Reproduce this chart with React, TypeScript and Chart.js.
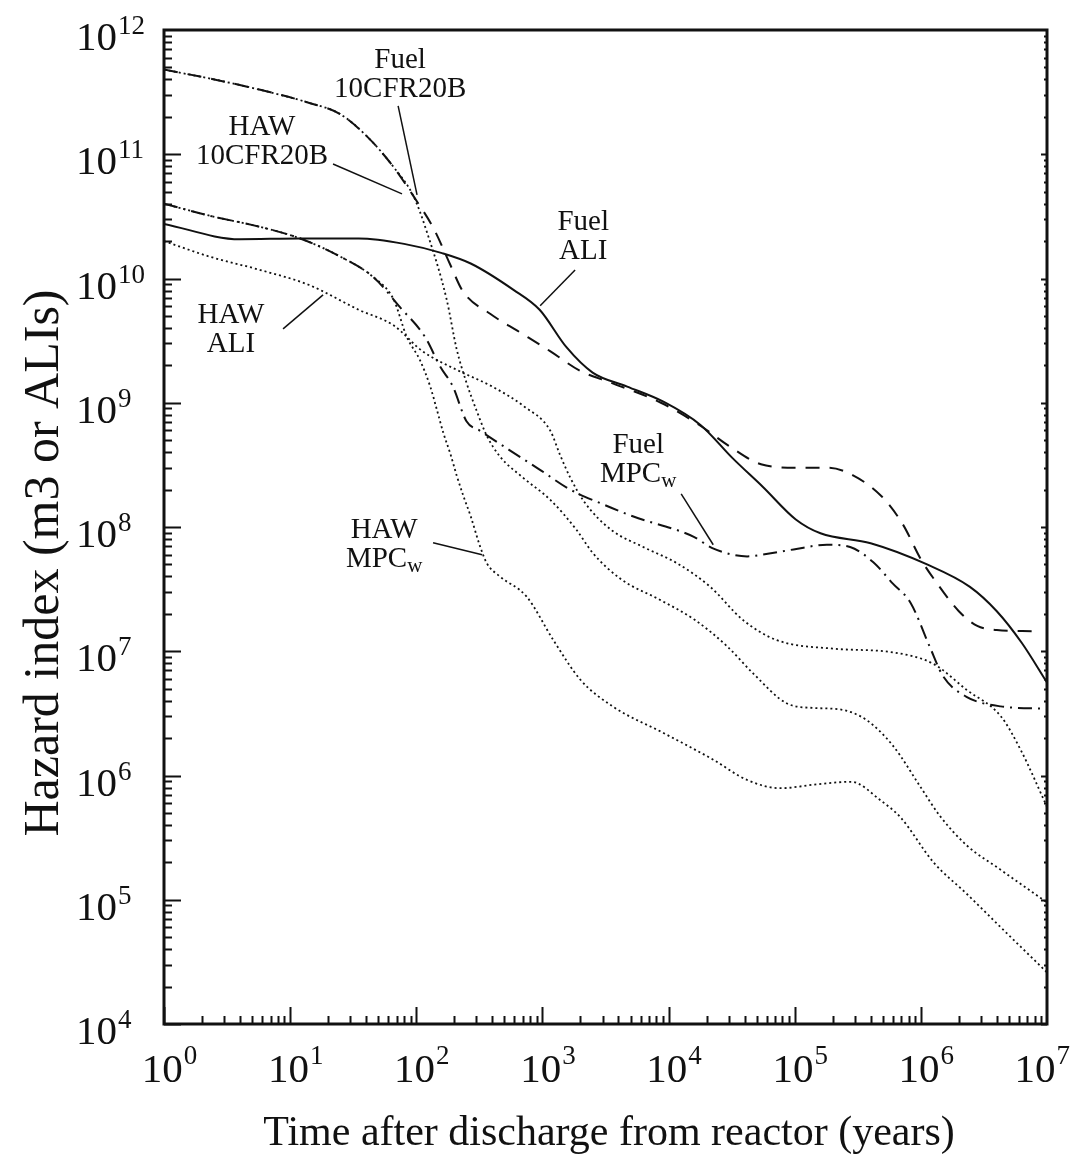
import React, { useEffect, useRef } from 'react';
import { Chart, registerables } from 'chart.js';

Chart.register(...registerables);

// ---- Data (years, hazard index) ----
const fuelAliT = [1, 4, 12, 35, 80, 160, 270, 590, 950, 1550, 2500, 4700, 9100, 1.8e4, 3.2e4, 5.6e4, 1.02e5, 1.6e5, 4e5, 1.12e6, 2.45e6, 4e6, 6.3e6, 1e7];
const fuelAliV = [2.75e10, 2.07e10, 2.1e10, 2.1e10, 1.9e10, 1.6e10, 1.32e10, 8.1e9, 5.6e9, 2.8e9, 1.75e9, 1.35e9, 1.02e9, 6.6e8, 3.6e8, 2.1e8, 1.15e8, 8.9e7, 7.4e7, 5e7, 3.3e7, 2.1e7, 1.17e7, 5.6e6];

const fuelCfrT = [1, 2.5, 5.8, 14, 25, 41, 66, 95, 138, 186, 234, 385, 660, 1150, 2000, 3500, 8700, 1.8e4, 3e4, 5.4e4, 1.02e5, 1.86e5, 2.9e5, 4.9e5, 7.2e5, 1e6, 1.35e6, 2e6, 2.8e6, 4e6, 7.6e6];
const fuelCfrV = [4.8e11, 4e11, 3.3e11, 2.6e11, 2.1e11, 1.38e11, 7.9e10, 4.6e10, 2.5e10, 1.29e10, 7.9e9, 5.2e9, 3.7e9, 2.6e9, 1.8e9, 1.45e9, 1e9, 6.5e8, 4.5e8, 3.2e8, 3e8, 3e8, 2.6e8, 1.76e8, 1.05e8, 5.5e7, 3.5e7, 2.1e7, 1.6e7, 1.48e7, 1.45e7];

const fuelMpcT = [1, 2.3, 5.8, 12, 25, 46, 74, 117, 155, 195, 250, 316, 540, 950, 1660, 2900, 5200, 1.6e4, 2.2e4, 4.2e4, 5.6e4, 9.8e4, 1.8e5, 2.75e5, 4.2e5, 6e5, 8.3e5, 1.17e6, 1.5e6, 2.3e6, 4.3e6, 1e7];
const fuelMpcV = [4e10, 3.2e10, 2.6e10, 2.1e10, 1.5e10, 1.02e10, 5.9e9, 3.4e9, 1.95e9, 1.35e9, 7.1e8, 6e8, 4.2e8, 2.9e8, 2e8, 1.55e8, 1.22e8, 8.3e7, 6.8e7, 5.8e7, 6e7, 6.6e7, 7.2e7, 6.9e7, 5.2e7, 3.5e7, 2.45e7, 1.1e7, 6.3e6, 4.3e6, 3.6e6, 3.45e6];

const hawCfrT = [1, 2.5, 5.8, 14, 25, 41, 66, 95, 120, 174, 209, 250, 300, 363, 460, 700, 1150, 1860, 2500, 4200, 8500, 1.6e4, 2.9e4, 4.7e4, 8.7e4, 1.4e5, 2.3e5, 3.7e5, 6e5, 1e6, 1.4e6, 2.3e6, 4.3e6, 1e7];
const hawCfrV = [4.8e11, 4e11, 3.3e11, 2.6e11, 2.1e11, 1.38e11, 7.9e10, 4.6e10, 2.45e10, 6.8e9, 2.7e9, 1.45e9, 8.7e8, 5.4e8, 3.7e8, 2.5e8, 1.66e8, 9.5e7, 6.2e7, 3.8e7, 2.6e7, 1.8e7, 1.1e7, 6.6e6, 3.8e6, 3.5e6, 3.4e6, 2.8e6, 1.74e6, 8e5, 4.8e5, 2.75e5, 1.74e5, 9.5e4];

const hawMpcT = [1, 2.3, 5.8, 12, 25, 46, 66, 84, 107, 129, 146, 164, 186, 209, 237, 270, 320, 363, 460, 750, 1220, 2000, 3600, 9100, 2.26e4, 4.2e4, 7.7e4, 1.5e5, 2.8e5, 4.8e5, 6.9e5, 1.26e6, 2.3e6, 4.3e6, 1e7];
const hawMpcV = [4e10, 3.2e10, 2.6e10, 2.1e10, 1.5e10, 1.02e10, 6.8e9, 3.4e9, 2.2e9, 1.35e9, 8.7e8, 5.7e8, 3.9e8, 2.6e8, 1.76e8, 1.22e8, 7e7, 5.1e7, 4e7, 2.75e7, 1.23e7, 5.9e6, 3.6e6, 2.2e6, 1.34e6, 9.2e5, 7.9e5, 8.5e5, 8.9e5, 6.3e5, 4.6e5, 2e5, 1.12e5, 6e4, 2.6e4];

const hawAliT = [1, 2.3, 5.8, 14, 35, 66, 112, 209, 400, 720, 1150, 1380, 1660, 2140, 3500, 6300, 1.17e4, 2.14e4, 3.9e4, 7.2e4, 2e5, 6e5, 1.26e6, 2.3e6, 4.3e6, 6.2e6, 1e7];
const hawAliV = [2e10, 1.5e10, 1.17e10, 8.9e9, 5.6e9, 4.2e9, 2.6e9, 1.84e9, 1.35e9, 9.3e8, 6e8, 3.8e8, 2.5e8, 1.6e8, 9.5e7, 6.9e7, 5.1e7, 3.3e7, 1.78e7, 1.23e7, 1.05e7, 9.8e6, 7.9e6, 4.9e6, 3e6, 1.6e6, 5.6e5];

// ---- Axes ----
const xMin = 1;
const xMax = 1e7;
const yMin = 1e4;
const yMax = 1e12;
const xTickExponents = [0, 1, 2, 3, 4, 5, 6, 7];
const yTickExponents = [4, 5, 6, 7, 8, 9, 10, 11, 12];
const xTitle = 'Time after discharge from reactor (years)';
const yTitle = 'Hazard index (m3 or ALIs)';

// ---- Curve annotations (anchor and leader line in data units) ----
type Seg = { text: string; sub?: boolean };
const annotations: { lines: Seg[][]; at: [number, number]; leader: [number, number][] }[] = [
  { lines: [[{ text: 'Fuel' }], [{ text: '10CFR20B' }]], at: [10 ** 1.872, 10 ** 11.694], leader: [[10 ** 1.856, 10 ** 11.389], [10 ** 2.006, 10 ** 10.673]] },
  { lines: [[{ text: 'HAW' }], [{ text: '10CFR20B' }]], at: [10 ** 0.777, 10 ** 11.155], leader: [[10 ** 1.34, 10 ** 10.922], [10 ** 1.887, 10 ** 10.681]] },
  { lines: [[{ text: 'Fuel' }], [{ text: 'ALI' }]], at: [10 ** 3.323, 10 ** 10.391], leader: [[10 ** 3.259, 10 ** 10.069], [10 ** 2.982, 10 ** 9.78]] },
  { lines: [[{ text: 'HAW' }], [{ text: 'ALI' }]], at: [10 ** 0.531, 10 ** 9.643], leader: [[10 ** 0.944, 10 ** 9.595], [10 ** 1.261, 10 ** 9.868]] },
  { lines: [[{ text: 'Fuel' }], [{ text: 'MPC' }, { text: 'w', sub: true }]], at: [10 ** 3.759, 10 ** 8.597], leader: [[10 ** 4.1, 10 ** 8.267], [10 ** 4.354, 10 ** 7.857]] },
  { lines: [[{ text: 'HAW' }], [{ text: 'MPC' }, { text: 'w', sub: true }]], at: [10 ** 1.745, 10 ** 7.913], leader: [[10 ** 2.133, 10 ** 7.873], [10 ** 2.522, 10 ** 7.776]] },
];

const FONT = '"Liberation Serif", "Times New Roman", serif';
const INK = '#111';

const pts = (t: number[], v: number[]) => t.map((x, i) => ({ x, y: v[i] }));

const decorPlugin = {
  id: 'decor',
  afterDraw(chart: any) {
    const ctx: CanvasRenderingContext2D = chart.ctx;
    const xs = chart.scales.x;
    const ys = chart.scales.y;
    const a = chart.chartArea;
    ctx.save();
    ctx.strokeStyle = INK;
    ctx.fillStyle = INK;

    // frame
    ctx.lineWidth = 3;
    ctx.strokeRect(a.left, a.top, a.right - a.left, a.bottom - a.top);

    // ticks
    ctx.lineWidth = 2;
    ctx.beginPath();
    for (let d = 0; d < 7; d++) {
      for (let m = 1; m <= 9; m++) {
        const px = Math.round(xs.getPixelForValue(m * 10 ** d)) + 0.5;
        const len = m === 1 ? 17 : 8;
        ctx.moveTo(px, a.bottom);
        ctx.lineTo(px, a.bottom - len);
      }
    }
    for (let d = 4; d < 12; d++) {
      for (let m = 1; m <= 9; m++) {
        const py = Math.round(ys.getPixelForValue(m * 10 ** d)) + 0.5;
        const len = m === 1 ? 17 : 8;
        ctx.moveTo(a.left, py);
        ctx.lineTo(a.left + len, py);
        const rl = m === 1 ? 6 : 3;
        ctx.moveTo(a.right, py);
        ctx.lineTo(a.right - rl, py);
      }
    }
    ctx.stroke();

    // tick labels
    const base = 41;
    const sup = 27;
    const canvasW = chart.width;
    ctx.textBaseline = 'alphabetic';
    for (const e of xTickExponents) {
      const px = xs.getPixelForValue(10 ** e);
      ctx.font = `${base}px ${FONT}`;
      const w1 = ctx.measureText('10').width;
      ctx.font = `${sup}px ${FONT}`;
      const w2 = ctx.measureText(String(e)).width;
      let x0 = px + 5 - (w1 + w2) / 2;
      if (x0 + w1 + w2 + 1 > canvasW - 8) x0 = canvasW - 8 - (w1 + w2 + 1);
      ctx.textAlign = 'left';
      ctx.font = `${base}px ${FONT}`;
      ctx.fillText('10', x0, a.bottom + 58);
      ctx.font = `${sup}px ${FONT}`;
      ctx.fillText(String(e), x0 + w1 + 1, a.bottom + 40);
    }
    for (const e of yTickExponents) {
      const py = ys.getPixelForValue(10 ** e);
      ctx.textAlign = 'left';
      ctx.font = `${base}px ${FONT}`;
      const w1 = ctx.measureText('10').width;
      ctx.fillText('10', 76, py + 20);
      ctx.font = `${sup}px ${FONT}`;
      ctx.fillText(String(e), 76 + w1 + 1, py + 4);
    }

    // axis titles
    ctx.font = `42px ${FONT}`;
    ctx.textAlign = 'center';
    ctx.fillText(xTitle, 609, 1145);
    ctx.save();
    ctx.font = `50px ${FONT}`;
    ctx.translate(58, 563);
    ctx.rotate(-Math.PI / 2);
    ctx.fillText(yTitle, 0, 0);
    ctx.restore();

    // curve annotations
    ctx.lineWidth = 1.5;
    for (const an of annotations) {
      const ax = xs.getPixelForValue(an.at[0]);
      const ay = ys.getPixelForValue(an.at[1]);
      an.lines.forEach((line, i) => {
        let w = 0;
        for (const s of line) {
          ctx.font = `${s.sub ? 21 : 29}px ${FONT}`;
          w += ctx.measureText(s.text).width;
        }
        let x = ax - w / 2;
        const y = ay + i * 29;
        ctx.textAlign = 'left';
        for (const s of line) {
          ctx.font = `${s.sub ? 21 : 29}px ${FONT}`;
          ctx.fillText(s.text, x, s.sub ? y + 5 : y);
          x += ctx.measureText(s.text).width;
        }
      });
      ctx.beginPath();
      an.leader.forEach((p, i) => {
        const px = xs.getPixelForValue(p[0]);
        const py = ys.getPixelForValue(p[1]);
        if (i === 0) ctx.moveTo(px, py);
        else ctx.lineTo(px, py);
      });
      ctx.stroke();
    }
    ctx.restore();
  },
};

export default function App() {
  const ref = useRef<HTMLCanvasElement | null>(null);
  useEffect(() => {
    if (!ref.current) return;
    const dotted = { borderDash: [2, 3], borderWidth: 1.8, borderColor: '#111' };
    const common = { pointRadius: 0, fill: false, cubicInterpolationMode: 'monotone' as const };
    const chart = new Chart(ref.current, {
      type: 'line',
      data: {
        datasets: [
          { label: 'HAW 10CFR20B', data: pts(hawCfrT, hawCfrV), ...common, ...dotted },
          { label: 'HAW MPCw', data: pts(hawMpcT, hawMpcV), ...common, ...dotted },
          { label: 'HAW ALI', data: pts(hawAliT, hawAliV), ...common, ...dotted },
          { label: 'Fuel 10CFR20B', data: pts(fuelCfrT, fuelCfrV), ...common, borderDash: [14, 10], borderWidth: 2, borderColor: INK },
          { label: 'Fuel MPCw', data: pts(fuelMpcT, fuelMpcV), ...common, borderDash: [14, 6, 2, 6], borderWidth: 2, borderColor: INK },
          { label: 'Fuel ALI', data: pts(fuelAliT, fuelAliV), ...common, borderWidth: 2, borderColor: INK },
        ],
      },
      options: {
        animation: false,
        responsive: false,
        devicePixelRatio: 1,
        layout: { padding: { top: 30, right: 31, left: 0, bottom: 0 } },
        plugins: { legend: { display: false }, tooltip: { enabled: false } },
        scales: {
          x: {
            type: 'logarithmic',
            min: xMin,
            max: xMax,
            ticks: { display: false },
            grid: { display: false },
            border: { display: false },
            afterFit: (s: any) => { s.height = 134; },
          },
          y: {
            type: 'logarithmic',
            min: yMin,
            max: yMax,
            ticks: { display: false },
            grid: { display: false },
            border: { display: false },
            afterFit: (s: any) => { s.width = 164; },
          },
        },
      },
      plugins: [decorPlugin],
    });
    return () => chart.destroy();
  }, []);
  return (
    <div style={{ position: 'fixed', left: 0, top: 0, width: 1078, height: 1158, background: '#fff' }}>
      <canvas ref={ref} width={1078} height={1158} />
    </div>
  );
}
